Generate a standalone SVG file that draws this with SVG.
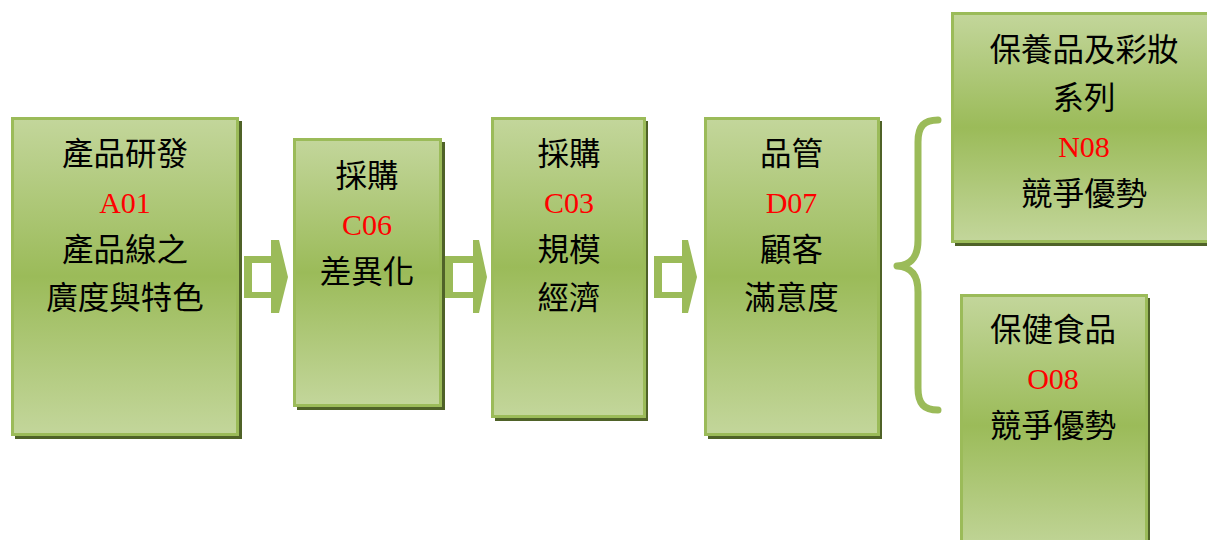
<svg xmlns="http://www.w3.org/2000/svg" width="1207" height="540" viewBox="0 0 1207 540">
<defs>
<linearGradient id="g" x1="0" y1="0" x2="0" y2="1">
<stop offset="0" stop-color="#c3d69b"/>
<stop offset="0.5" stop-color="#9bbb59"/>
<stop offset="1" stop-color="#c3d69b"/>
</linearGradient>
<style>
.sh{fill:#4f6228}
.bx{fill:url(#g);stroke:#9bbb59;stroke-width:3}
.t{font-family:"Liberation Serif","Noto Sans CJK TC",serif;font-size:31.5px;text-anchor:middle;fill:#000}
.r{fill:#ff0000;font-size:30px}
.ar{fill:#9bbb59;fill-rule:evenodd}
.br{fill:none;stroke:#9bbb59;stroke-width:7;stroke-linecap:round;stroke-linejoin:round}
</style>
</defs>
<rect width="1207" height="540" fill="#fff"/>
<g id="connectors">
<path class="ar" d="M244,256H271V240H279L288,277L279,313H271V298H244Z M252,263V292H271V263Z"/>
<path class="ar" d="M445,256H473V240H479L487,277L479,313H473V298H445Z M453,263V292H473V263Z"/>
<path class="ar" d="M654,256H682V240H688L697,277L688,313H682V298H654Z M662,263V292H682V263Z"/>
<path class="br" d="M938,120 C924,120 918,126 918,142 V240 C918,256 912,265 897,266 C912,267 918,276 918,292 V388 C918,404 924,410 938,410"/>
</g>
<g id="n1">
<rect class="sh" x="15" y="121" width="227" height="318"/>
<rect class="bx" x="12.5" y="118.5" width="225" height="316"/>
<text class="t" x="125" y="165">產品研發</text>
<text class="t r" x="125" y="213">A01</text>
<text class="t" x="125" y="261">產品線之</text>
<text class="t" x="125" y="309">廣度與特色</text>
</g>
<g id="n2">
<rect class="sh" x="297" y="142" width="148" height="268"/>
<rect class="bx" x="294.5" y="139.5" width="146" height="266"/>
<text class="t" x="367" y="187">採購</text>
<text class="t r" x="367" y="235">C06</text>
<text class="t" x="367" y="283">差異化</text>
</g>
<g id="n3">
<rect class="sh" x="495" y="121" width="153" height="300"/>
<rect class="bx" x="492.5" y="118.5" width="152" height="298"/>
<text class="t" x="569" y="165">採購</text>
<text class="t r" x="569" y="213">C03</text>
<text class="t" x="569" y="261">規模</text>
<text class="t" x="569" y="309">經濟</text>
</g>
<g id="n4">
<rect class="sh" x="708" y="121" width="174" height="318"/>
<rect class="bx" x="705.5" y="118.5" width="173" height="316"/>
<text class="t" x="791.5" y="165">品管</text>
<text class="t r" x="791.5" y="213">D07</text>
<text class="t" x="791.5" y="261">顧客</text>
<text class="t" x="791.5" y="309">滿意度</text>
</g>
<g id="n5">
<rect class="sh" x="955" y="16" width="270" height="230"/>
<rect class="bx" x="952.5" y="13.5" width="268" height="228"/>
<text class="t" x="1084" y="61">保養品及彩妝</text>
<text class="t" x="1084" y="109">系列</text>
<text class="t r" x="1084" y="157">N08</text>
<text class="t" x="1084" y="205">競爭優勢</text>
</g>
<g id="n6">
<rect class="sh" x="964" y="298" width="186" height="260"/>
<rect class="bx" x="961.5" y="295.5" width="185" height="260"/>
<text class="t" x="1053" y="341">保健食品</text>
<text class="t r" x="1053" y="389">O08</text>
<text class="t" x="1053" y="437">競爭優勢</text>
</g>
</svg>
